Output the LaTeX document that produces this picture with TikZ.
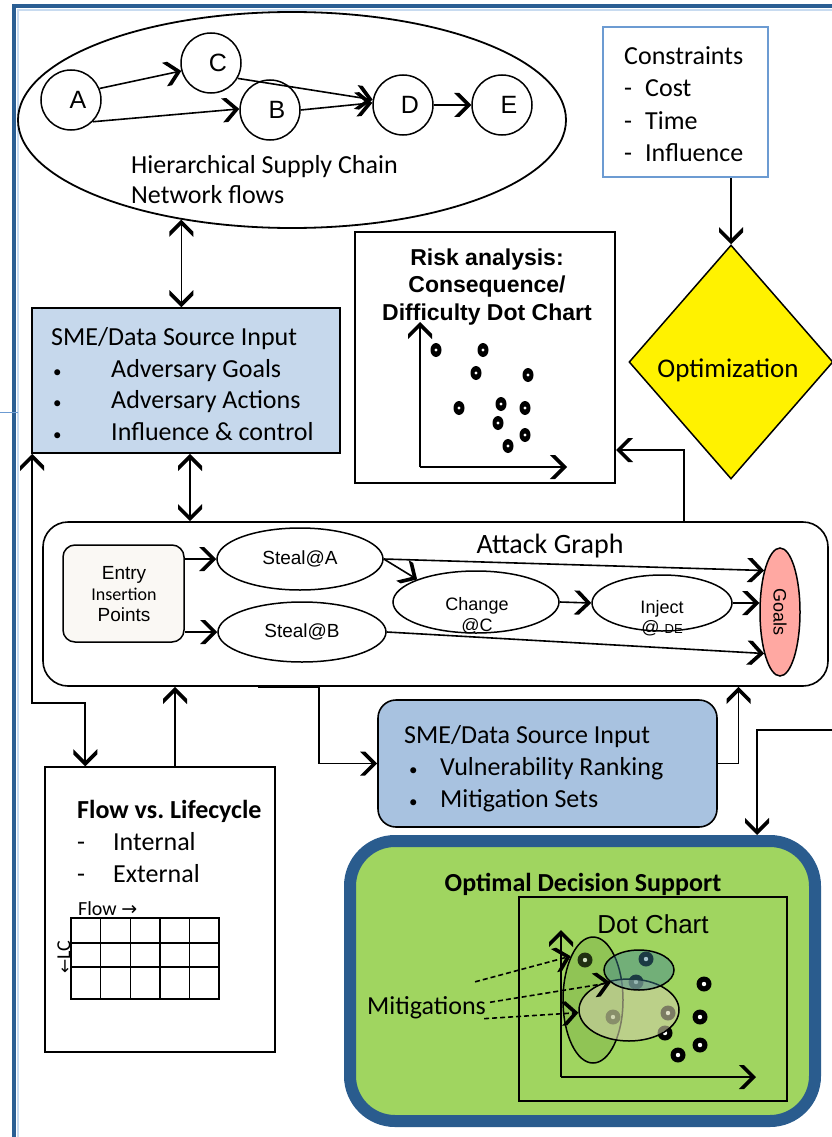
\documentclass[tikz,border=0pt]{standalone}
\usepackage{fontspec}
\setmainfont{Carlito}
\newfontfamily\arialf{Liberation Sans}
\newfontfamily\symf{DejaVu Sans}
\usetikzlibrary{arrows.meta,shapes.geometric}

% bold open chevron arrow head, drawn as a filled outline
\pgfdeclarearrow{
  name = Chev,
  setup code = {
    \pgfarrowssettipend{0pt}
    \pgfarrowssetlineend{-5pt}
    \pgfarrowssetbackend{-17pt}
    \pgfarrowshullpoint{0pt}{0pt}
    \pgfarrowsupperhullpoint{-17pt}{12pt}
  },
  drawing code = {
    \pgfsetdash{}{0pt}
    \pgfpathmoveto{\pgfqpoint{0pt}{0pt}}
    \pgfpathlineto{\pgfqpoint{-12pt}{12pt}}
    \pgfpathlineto{\pgfqpoint{-17.2pt}{12pt}}
    \pgfpathlineto{\pgfqpoint{-5.2pt}{0pt}}
    \pgfpathlineto{\pgfqpoint{-17.2pt}{-12pt}}
    \pgfpathlineto{\pgfqpoint{-12pt}{-12pt}}
    \pgfpathclose
    \pgfusepathqfill
  }
}

\definecolor{frameblue}{RGB}{42,94,147}
\definecolor{framelight}{RGB}{200,219,240}
\definecolor{smelight}{RGB}{198,216,236}
\definecolor{smemid}{RGB}{168,194,224}
\definecolor{consblue}{RGB}{108,155,210}
\definecolor{entryfill}{RGB}{250,248,244}
\definecolor{goalpink}{RGB}{255,168,162}
\definecolor{decgreen}{RGB}{160,213,96}
\definecolor{decblue}{RGB}{42,92,142}
\definecolor{olivefill}{RGB}{110,160,60}
\definecolor{tealfill}{RGB}{60,130,150}
\definecolor{palefill}{RGB}{205,205,165}

\tikzset{
  conn/.style={line width=1.6pt,-{Chev}},
  dconn/.style={line width=1.6pt,{Chev}-{Chev}},
  lbl/.style={inner sep=0pt,anchor=base west,font=\fontsize{26}{32}\selectfont},
  lblc/.style={inner sep=0pt,anchor=base,font=\fontsize{26}{32}\selectfont},
  arl/.style={inner sep=0pt,anchor=base,font=\arialf\fontsize{19}{22}\selectfont},
  flowcirc/.style={circle,draw,line width=1.5pt,minimum size=60pt,inner sep=0pt,
    font=\arialf\fontsize{25}{25}\selectfont},
  agell/.style={ellipse,draw,line width=1.5pt,inner sep=0pt,fill=white},
  plain/.style={draw,line width=1.6pt,inner sep=0pt},
}

\newcommand\riskdot[2]{\fill (#1,#2) ellipse (5.5 and 7);\fill[white] (#1,#2) circle (1.6);}
\newcommand\chartdot[2]{\fill (#1,#2) circle (7.5);\fill[white] (#1,#2) circle (2.2);}
\newcommand\smallbullet{{\fontsize{17}{17}\selectfont\textbullet}}

\begin{document}
\begin{tikzpicture}[x=1pt,y=-1pt]
\useasboundingbox (0,0) rectangle (832,1137);
\fill[white] (0,0) rectangle (832,1137);

% outer frame
\draw[framelight,line width=1.2pt] (18,1137) -- (18,10) -- (832,10);
\draw[frameblue,line width=4pt] (14,1137) -- (14,6) -- (832,6);
\draw[consblue,line width=1pt] (0,412) -- (18,412);

% supply chain network
\node[ellipse,draw,line width=1.8pt,minimum width=548pt,minimum height=216pt,inner sep=0pt] (net) at (292,120) {};
\node[flowcirc] (A) at (71,100) {\hspace*{14pt}A};
\node[flowcirc] (C) at (211,63) {\hspace*{14pt}C};
\node[flowcirc] (B) at (270,110) {\hspace*{14pt}B};
\node[flowcirc] (D) at (403,105) {\hspace*{14pt}D};
\node[flowcirc] (E) at (502,105) {\hspace*{14pt}E};
\draw[conn] (A.22) -- (C.195);
\draw[conn] (A.-45) -- (B.178);
\draw[conn] (C.-30) -- (D.170);
\draw[conn] (B.east) -- (D.176);
\draw[conn] (D.east) -- (E.west);
\node[lbl] (net1) at (131,173) {Hierarchical Supply Chain};
\node[lbl] (net2) at (131,203) {Network flows};

% constraints and optimization
\node[draw=consblue,line width=2pt,minimum width=165pt,minimum height=150pt,inner sep=0pt] (cons) at (685.5,102) {};
\node[lbl] (c0) at (624,65) {Constraints};
\node[lbl] (c1) at (624,97) {\makebox[21pt][l]{-}Cost};
\node[lbl] (c2) at (624,129) {\makebox[21pt][l]{-}Time};
\node[lbl] (c3) at (624,161) {\makebox[21pt][l]{-}Influence};
\node[diamond,draw,line width=1.5pt,fill=yellow,minimum width=204pt,minimum height=234pt,inner sep=0pt] (opt) at (731,362) {};
\node[inner sep=0pt,anchor=base,font=\fontsize{27}{30}\selectfont] (optl) at (728,377) {Optimization};
\draw[conn] (cons.south -| opt.north) -- (opt.north);

% risk analysis chart
\node[plain,line width=2pt,minimum width=260pt,minimum height=251pt] (risk) at (485,357.5) {};
\node[inner sep=0pt,anchor=base,font=\arialf\bfseries\fontsize{23}{27}\selectfont] (r1) at (487,265) {Risk analysis:};
\node[inner sep=0pt,anchor=base,font=\arialf\bfseries\fontsize{23}{27}\selectfont] (r2) at (487,292) {Consequence/};
\node[inner sep=0pt,anchor=base,font=\arialf\bfseries\fontsize{23}{27}\selectfont] (r3) at (487,320) {Difficulty Dot Chart};
\coordinate (ro) at (420,467);
\coordinate (ry) at (420,322);
\coordinate (rx) at (567,467);
\draw[conn,line width=2pt] (ro) -- (ry);
\draw[conn,line width=2pt] (ro) -- (rx);
\riskdot{436}{350}\riskdot{483}{350}\riskdot{476}{373}\riskdot{528}{375}
\riskdot{459}{408}\riskdot{501}{404}\riskdot{525}{408}\riskdot{498}{423}
\riskdot{525}{435}\riskdot{508}{446}

% SME input (adversary)
\node[plain,fill=smelight,minimum width=308pt,minimum height=145pt] (sme1) at (186,380.5) {};
\node[lbl] (s0) at (51,345) {SME/Data Source Input};
\node[lbl] (s1) at (53,377) {\makebox[58pt][l]{\smallbullet}Adversary Goals};
\node[lbl] (s2) at (53,408) {\makebox[58pt][l]{\smallbullet}Adversary Actions};
\node[lbl] (s3) at (53,440) {\makebox[58pt][l]{\smallbullet}Influence \& control};
\draw[dconn] (net.222) -- (net.222 |- sme1.north);

% attack graph
\node[plain,rounded corners=25pt,minimum width=785pt,minimum height=164pt] (ag) at (435.5,604) {};
\node[lblc,font=\fontsize{28}{32}\selectfont] (agt) at (550,553) {Attack Graph};
\node[plain,line width=1.5pt,rounded corners=12pt,fill=entryfill,minimum width=121pt,minimum height=97pt] (entry) at (123.5,593.5) {};
\node[arl] (e1) at (124,579) {Entry};
\node[inner sep=0pt,anchor=base,font=\fontsize{18}{20}\selectfont] (e2) at (124,600) {Insertion};
\node[arl] (e3) at (124,621) {Points};
\node[agell,minimum width=166pt,minimum height=62pt,font=\arialf\fontsize{19}{22}\selectfont] (steala) at (300,559) {Steal@A};
\node[agell,minimum width=168pt,minimum height=60pt,font=\arialf\fontsize{19}{22}\selectfont] (stealb) at (302,632) {Steal@B};
\node[agell,minimum width=166pt,minimum height=62pt] (change) at (476,602) {};
\node[arl,font=\arialf\fontsize{18}{22}\selectfont] (ch1) at (477,610) {Change};
\node[arl,font=\arialf\fontsize{18}{22}\selectfont] (ch2) at (477,631) {@C};
\node[agell,minimum width=140pt,minimum height=56pt] (inject) at (662,603) {};
\node[arl,font=\arialf\fontsize{18}{22}\selectfont] (in1) at (662,613) {Inject};
\node[arl,font=\arialf\fontsize{18}{22}\selectfont] (in2) at (662,633) {@ {\fontsize{13}{14}\selectfont DE}};
\node[ellipse,draw,line width=1.5pt,fill=goalpink,minimum width=40pt,minimum height=128pt,inner sep=0pt] (goals) at (780,612) {};
\node[inner sep=0pt,rotate=-90,font=\arialf\fontsize{18}{22}\selectfont] (gl) at (goals.center) {Goals};
\draw[conn] (entry.east |- steala.west) -- (steala.west);
\draw[conn] (entry.east |- stealb.west) -- (stealb.west);
\draw[conn] (steala.east) -- (change.159);
\draw[conn] (steala.east) -- (goals.111);
\draw[conn] (change.east) -- (inject.west);
\draw[conn] (inject.east) -- (inject.east -| goals.west);
\draw[conn] (stealb.east) -- (goals.249);
\draw[dconn] ([xshift=4pt]sme1.south) -- ([xshift=4pt]sme1.south |- ag.north);
\draw[conn] ([xshift=248.5pt]ag.north) |- ([yshift=-92.5pt]risk.east);

% flow vs lifecycle
\node[plain,line width=1.5pt,minimum width=230pt,minimum height=285pt] (flow) at (160,909.5) {};
\node[lbl,font=\bfseries\fontsize{26}{32}\selectfont] (f0) at (77,818) {Flow vs.\ Lifecycle};
\node[lbl] (f1) at (77,850) {\makebox[36pt][l]{-}Internal};
\node[lbl] (f2) at (77,882) {\makebox[36pt][l]{-}External};
\node[lbl,font=\fontsize{20}{24}\selectfont] (f3) at (78,915) {Flow {\symf\fontsize{19}{20}\selectfont →}};
\draw[line width=1.4pt] (71,918) rectangle (219,999);
\foreach \gx in {100.6,130.2,159.8,189.4} \draw[line width=1.4pt] (\gx,918) -- (\gx,999);
\foreach \gy in {943,967} \draw[line width=1.4pt] (71,\gy) -- (219,\gy);
\node[inner sep=0pt,rotate=90,font=\fontsize{20}{24}\selectfont] (lc) at (64,957) {{\symf\fontsize{17}{20}\selectfont ←}LC};
\draw[dconn] ([xshift=1pt]sme1.south west) |- ([xshift=41pt,yshift=63pt]flow.north west) -- ([xshift=41pt]flow.north west);
\draw[conn] ([xshift=15pt]flow.north) -- ([xshift=15pt]flow.north |- ag.south);

% SME input (vulnerabilities)
\node[plain,fill=smemid,rounded corners=18pt,minimum width=339pt,minimum height=127pt] (sme2) at (547.5,763.5) {};
\node[lbl] (t0) at (404,743) {SME/Data Source Input};
\node[lbl] (t1) at (409,775) {\makebox[31pt][l]{\smallbullet}Vulnerability Ranking};
\node[lbl] (t2) at (409,807) {\makebox[31pt][l]{\smallbullet}Mitigation Sets};
\draw[conn] ([xshift=-177.5pt]ag.south) -| ([xshift=-58pt]sme2.west) -- (sme2.west);
\draw[conn] (sme2.east) -| ([xshift=303pt]ag.south);

% optimal decision support
\node[draw=decblue,line width=12pt,fill=decgreen,rounded corners=45pt,minimum width=465pt,minimum height=280pt,inner sep=0pt] (dec) at (582.5,981) {};
\coordinate (rin) at (832,730);
\draw[conn] (rin) -| ([xshift=174.5pt]dec.north);
\node[inner sep=0pt,anchor=base,font=\bfseries\fontsize{26}{30}\selectfont] (dtitle) at (583,891) {Optimal Decision Support};
\node[plain,line width=1.5pt,minimum width=268pt,minimum height=204pt] (dc) at (653,999) {};
\node[inner sep=0pt,anchor=base,font=\arialf\fontsize{26}{30}\selectfont] (dct) at (653,933) {Dot Chart};
\coordinate (do) at (561,1077);
\coordinate (dy) at (561,930);
\coordinate (dx) at (756,1077);
\draw[conn,line width=2pt] (do) -- (dy);
\draw[conn,line width=2pt] (do) -- (dx);
\chartdot{585}{960}\chartdot{646}{959}\chartdot{636}{982}\chartdot{613}{1017}
\chartdot{668}{1013}\chartdot{665}{1033}\chartdot{704}{984}\chartdot{700}{1017}
\chartdot{700}{1045}\chartdot{678}{1055}
\node[ellipse,draw,line width=1.5pt,fill=olivefill,fill opacity=0.3,minimum width=60pt,minimum height=126pt,inner sep=0pt] (mtall) at (593,1000) {};
\node[ellipse,draw,line width=1.5pt,fill=palefill,fill opacity=0.6,minimum width=100pt,minimum height=62pt,inner sep=0pt] (mbig) at (629,1010) {};
\node[ellipse,draw,line width=1.5pt,fill=tealfill,fill opacity=0.45,minimum width=70pt,minimum height=40pt,inner sep=0pt] (mteal) at (639,970) {};
\node[lbl] (mit) at (367,1014) {Mitigations};
\draw[conn,dashed,dash pattern=on 5pt off 3pt] ([xshift=-11pt,yshift=14pt]mit.north east) -- (mtall.117);
\draw[conn,dashed,dash pattern=on 5pt off 3pt] ([xshift=4pt,yshift=5pt]mit.east) -- (mteal.204);
\draw[conn,dashed,dash pattern=on 5pt off 3pt] ([xshift=-2pt]mit.south east) -- (mbig.183);
\end{tikzpicture}
\end{document}
